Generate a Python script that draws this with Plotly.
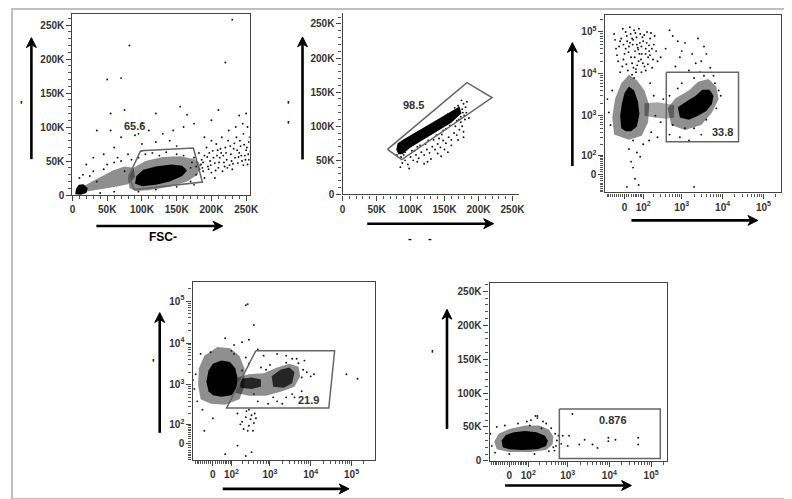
import numpy as np
import plotly.graph_objects as go

W, H = 792, 499
C = 80.0  # biexponential-like (asinh) width parameter

def T(v):
    return np.arcsinh(np.asarray(v, dtype=float) / C)

# ---------------- DATA ----------------
# Panel 1: FSC-A (K) vs SSC-A (K)
p1_origin_core = [(4, 1), (5, 9), (9, 15), (16, 16), (22, 10), (20, 3), (12, 0.5)]
p1_band_mid = [(14, 4), (18, 14), (28, 20), (42, 28), (58, 36), (75, 42), (88, 40), (90, 26),
               (80, 16), (62, 12), (45, 9), (30, 6)]
p1_main_mid = [(82, 10), (80, 25), (88, 40), (105, 50), (130, 56), (155, 57), (175, 53), (185, 44),
               (180, 30), (165, 20), (140, 12), (110, 7), (92, 6)]
p1_main_core = [(90, 17), (92, 28), (102, 37), (120, 42), (142, 45), (158, 43), (165, 36), (158, 28),
                (140, 20), (120, 15), (100, 13)]
p1_dots = [(170, 40), (175, 55), (178, 30), (182, 62), (185, 45), (188, 35), (190, 58), (193, 70), (195, 42),
           (198, 50), (200, 33), (202, 65), (205, 47), (207, 75), (210, 40), (212, 55), (214, 62), (216, 35),
           (218, 48), (220, 70), (222, 52), (224, 80), (226, 44), (228, 60), (230, 38), (232, 68), (234, 55),
           (236, 85), (238, 47), (240, 62), (242, 72), (244, 50), (246, 90), (248, 58), (250, 66), (252, 45),
           (254, 78), (253, 60), (252, 100), (251, 70), (215, 85), (225, 95), (245, 105), (200, 80), (235, 100),
           (205, 25), (190, 25), (180, 48), (50, 170), (70, 172), (82, 220), (230, 258), (220, 195), (160, 100),
           (175, 105), (190, 85), (140, 80), (120, 78), (100, 75), (60, 70), (70, 85), (90, 88), (45, 60),
           (30, 55), (110, 95), (130, 90), (150, 72), (165, 118), (200, 110), (55, 120), (75, 125), (30, 35),
           (15, 30), (20, 45), (35, 95), (95, 90), (145, 95), (210, 125), (250, 120), (55, 95), (80, 60),
           (65, 55), (100, 65), (120, 120), (155, 130), (100, 105), (240, 117), (10, 25), (25, 28), (35, 20),
           (45, 38), (50, 45), (60, 48), (70, 50), (75, 35), (85, 52), (95, 55), (105, 60), (115, 62),
           (125, 58), (135, 63), (150, 60), (160, 58), (170, 20), (175, 15), (150, 12), (120, 8), (95, 5),
           (60, 5), (40, 3), (186, 52), (196, 38), (208, 58), (219, 42), (229, 50), (239, 56), (249, 52),
           (203, 55), (213, 68), (227, 72), (241, 80), (255, 85), (172, 48), (183, 38), (188, 48), (194, 56),
           (199, 44), (206, 36), (211, 48), (217, 58), (223, 40), (231, 46), (237, 66), (243, 58), (247, 74),
           (233, 76), (221, 62), (209, 66), (197, 62), (187, 40), (178, 42), (256, 64), (254, 52), (246, 44)]
p1_gate = [(98, 65), (174, 69), (187, 19), (89, 8), (81, 28)]
p1_label = (90, 102, "65.6")

# Panel 2: FSC-A (K) vs FSC-H (K)
p2_core = [(79, 66), (81, 75), (90, 81), (110, 93), (130, 105), (150, 117), (165, 126), (172, 129),
           (175, 119), (160, 105), (140, 93), (120, 81), (100, 69), (88, 59), (82, 59)]
p2_dots = [(85, 40), (88, 46), (92, 50), (96, 44), (100, 55), (104, 50), (108, 58), (112, 53), (116, 62),
           (120, 58), (124, 66), (128, 61), (132, 70), (136, 66), (140, 74), (144, 69), (148, 79), (152, 75),
           (156, 84), (160, 80), (164, 90), (168, 87), (172, 95), (176, 100), (178, 92), (174, 106), (180, 110),
           (177, 120), (181, 128), (178, 133), (183, 136), (175, 138), (170, 130), (165, 127), (120, 45),
           (130, 52), (110, 48), (98, 38), (140, 60), (150, 66), (160, 72), (170, 80), (178, 84), (90, 58),
           (102, 64), (114, 72), (126, 79), (138, 87), (148, 94), (158, 101), (168, 108), (95, 70), (105, 80),
           (118, 90), (135, 104), (155, 118), (162, 112), (80, 58), (86, 55), (125, 48), (145, 56), (155, 62),
           (174, 114), (182, 120), (186, 112), (176, 125), (172, 120), (168, 118), (179, 116), (106, 64),
           (122, 74), (134, 80), (146, 88), (152, 96), (166, 100), (171, 110), (92, 62), (110, 70), (142, 82)]
p2_gate = [(66, 66), (183, 164), (220, 142), (87, 51)]
p2_label = (105, 131, "98.5")

# Panel 3: biexponential x and y (raw values)
p3_left_mid = [(-50, 350), (-60, 900), (-45, 2500), (-15, 6000), (20, 9500), (60, 7000), (110, 4000),
               (150, 1800), (140, 700), (90, 330), (20, 260)]
p3_left_core = [(-15, 500), (-20, 1000), (-12, 2000), (0, 3500), (20, 5000), (45, 4000), (66, 2200),
                (75, 1100), (60, 550), (30, 420), (5, 420)]
p3_bridge = [(110, 1000), (110, 2000), (250, 2100), (450, 1900), (650, 1800), (650, 900), (400, 850), (200, 900)]
p3_right_mid = [(550, 600), (450, 1500), (700, 2600), (1500, 4000), (2500, 6500), (4500, 7500), (7000, 5000),
                (8000, 2500), (5500, 1200), (3000, 600), (1200, 450)]
p3_right_core = [(900, 900), (800, 1600), (1300, 2200), (2200, 3000), (3200, 4200), (4800, 4200), (6000, 3000),
                 (5500, 1900), (4000, 1300), (2500, 1000), (1500, 800)]
p3_dots = [(-40, 40000), (-20, 60000), (0, 30000), (10, 80000), (20, 45000), (30, 25000), (40, 65000),
           (50, 35000), (60, 50000), (70, 20000), (80, 90000), (90, 30000), (100, 60000), (120, 40000),
           (140, 25000), (160, 70000), (-30, 20000), (-10, 15000), (15, 12000), (35, 18000), (55, 13000),
           (75, 30000), (110, 15000), (5, 100000), (-50, 90000), (45, 110000), (130, 100000), (200, 50000),
           (250, 20000), (180, 14000), (25, 55000), (65, 42000), (85, 22000), (95, 75000), (-5, 50000),
           (35, 70000), (150, 35000), (120, 12000), (400, 40000), (600, 80000), (900, 25000), (1200, 55000),
           (1800, 30000), (2500, 70000), (3000, 20000), (3500, 45000), (700, 15000), (1500, 12000),
           (2200, 18000), (500, 110000), (800, 60000), (4000, 30000), (300, 25000), (1000, 35000),
           (2800, 11000), (5000, 14000), (6000, 9000), (-80, 1200), (-70, 600), (-90, 2500), (-60, 4000),
           (170, 400), (220, 1000), (200, 3000), (160, 6000), (300, 700), (350, 2500), (500, 3000), (600, 600),
           (800, 4500), (1000, 6000), (2000, 8000), (3500, 9000), (7000, 1500), (8000, 4000), (6500, 6000),
           (9000, 3000), (1200, 500), (2000, 500), (4000, 800), (3000, 350), (40, 250), (20, 150), (60, 120),
           (30, 60), (50, -20), (70, -50), (10, -60), (100, 200), (150, 250), (250, 300), (500, 350),
           (900, 300), (1500, 250), (2000, -60), (40, 30), (80, 90),
           (-35, 28000), (-25, 45000), (-15, 70000), (-5, 22000), (5, 40000), (12, 60000), (18, 33000),
           (28, 90000), (38, 50000), (48, 25000), (58, 75000), (68, 38000), (78, 55000), (88, 45000),
           (98, 18000), (108, 85000), (118, 30000), (128, 55000), (138, 17000), (148, 48000), (158, 28000),
           (168, 95000), (178, 40000), (190, 22000), (210, 80000), (230, 35000), (8, 17000), (42, 14000),
           (-20, 11000), (88, 11000), (-45, 65000), (52, 95000), (72, 120000), (-8, 120000), (24, 130000),
           (45, 8000), (55, 11000), (35, 9500), (62, 16000)]
p3_gate = [(416, 11000), (24500, 11000), (24500, 232), (416, 232)]
p3_label = (9700, 395, "33.8")

# Panel 4: biexponential x and y (raw values)
p4_left_mid = [(-60, 450), (-75, 1000), (-70, 2500), (-40, 5000), (20, 8000), (90, 7500), (170, 5000),
               (230, 2500), (230, 900), (170, 450), (60, 330), (-10, 350)]
p4_left_core = [(-20, 700), (-30, 1200), (-20, 2200), (0, 3200), (40, 3800), (90, 3500), (130, 2500),
                (150, 1500), (140, 800), (100, 560), (40, 520), (0, 560)]
p4_right_mid = [(130, 650), (150, 1500), (300, 1800), (700, 1900), (1500, 2600), (3000, 3200), (5000, 2700),
                (5500, 1600), (4000, 900), (2000, 700), (800, 550), (300, 550)]
p4_right_core = [(1200, 900), (1100, 1600), (1800, 2300), (3000, 2600), (4000, 2000), (3500, 1100), (2200, 850)]
p4_mid_core = [(180, 850), (180, 1400), (350, 1500), (600, 1350), (600, 900), (350, 800)]
p4_dots = [(150, 200), (200, 120), (250, 160), (300, 90), (350, 180), (400, 110), (280, 60), (220, 70),
           (330, 140), (450, 150), (180, 100), (260, 230), (380, 60), (300, 250), (420, 200), (250, 80000),
           (280, 85000), (400, 27000), (60, 13000), (120, 9000), (300, 12000), (500, 7000), (-10, 6000),
           (-60, 5500), (700, 5000), (1500, 5500), (2500, 5000), (3500, 4200), (200, 10500), (-100, 800),
           (-90, 1800), (-80, 400), (-50, 250), (0, 150), (-40, 60), (60, -50), (250, -60), (350, -40),
           (150, -10), (500, 400), (900, 350), (1500, 400), (2500, 500), (4000, 500), (6000, 1500),
           (8000, 2000), (10000, 1600), (12000, 1800), (75000, 1800), (140000, 1400), (7000, 3800),
           (4500, 4200), (600, 2600), (300, 3200), (1000, 3000), (6000, 700), (2000, 350), (120, 5500),
           (250, 4500), (800, 2300), (2500, 3400), (5000, 3300), (6500, 2300), (400, 600), (1200, 500),
           (3500, 600), (200, 2200), (-110, 1300), (100, 6500)]
p4_gate = [(446, 6500), (38500, 6500), (27700, 273), (68, 273)]
p4_label = (8700, 426, "21.9")

# Panel 5: biexponential x (raw values) vs linear y (K)
p5_mid = [(-60, 17), (-75, 28), (-50, 40), (0, 47), (80, 52), (200, 52), (350, 46), (450, 36), (430, 24),
          (300, 16), (120, 13), (0, 13)]
p5_core = [(-30, 20), (-35, 30), (-15, 38), (20, 42), (80, 44), (170, 42), (280, 37), (330, 30), (300, 22),
           (180, 17), (60, 16), (0, 17)]
p5_dots = [(-120, 34), (-100, 40), (-90, 22), (-60, 50), (-20, 52), (40, 55), (120, 60), (180, 63), (250, 58),
           (300, 55), (400, 48), (500, 40), (550, 30), (520, 22), (450, 20), (350, 14), (150, 10), (0, 10),
           (-70, 12), (230, 48), (90, 58), (160, 66), (600, 37), (700, 25), (760, 37), (1000, 22), (1080, 37),
           (1300, 69), (1900, 24), (2550, 31), (3950, 24), (5200, 19), (9450, 34), (9450, 29), (14000, 31),
           (49000, 34), (49000, 24), (480, 15), (-140, 28), (110, 52), (180, 66)]
p5_gate = [(630, 76.5), (166000, 76.5), (166000, 3.4), (630, 3.4)]
p5_label = (11900, 60, "0.876")

lin_ticks = [0, 50, 100, 150, 200, 250]
lin_text = ["0", "50K", "100K", "150K", "200K", "250K"]
bx_ticks = [0, 100, 1000, 10000, 100000]
bx_text = ["0", "10<sup>2</sup>", "10<sup>3</sup>", "10<sup>4</sup>", "10<sup>5</sup>"]

# ---------------- FIGURE ----------------
FONT = "Arial, Liberation Sans, sans-serif"
fig = go.Figure()

def xy(pts, tx=None, ty=None):
    xs = [p[0] for p in pts]
    ys = [p[1] for p in pts]
    xs = list(T(xs)) if tx else xs
    ys = list(T(ys)) if ty else ys
    return xs, ys

STYLES = {
    "light": dict(size=2, solidity=0.33),
    "mid": dict(size=2, solidity=0.5),
    "dense": dict(size=2, solidity=0.75),
}

def poly(pts, ax, level, tx=False, ty=False):
    xs, ys = xy(pts + pts[:1], tx, ty)
    kw = dict(x=xs, y=ys, mode="lines", fill="toself", xaxis="x" + ax, yaxis="y" + ax,
              hoverinfo="skip", showlegend=False, line=dict(width=0, color="rgba(0,0,0,0)"))
    if level == "core":
        kw["fillcolor"] = "black"
    else:
        st = STYLES[level]
        kw["fillcolor"] = "rgba(0,0,0,0)"
        kw["fillpattern"] = dict(shape=".", size=st["size"], solidity=st["solidity"], fgcolor="black",
                                 bgcolor="rgba(0,0,0,0)", fillmode="replace")
    fig.add_trace(go.Scatter(**kw))

def dots(pts, ax, tx=False, ty=False):
    xs, ys = xy(pts, tx, ty)
    fig.add_trace(go.Scatter(x=xs, y=ys, mode="markers", marker=dict(size=1.9, color="#111"),
                             xaxis="x" + ax, yaxis="y" + ax, hoverinfo="skip", showlegend=False))

def gate(pts, ax, tx=False, ty=False):
    xs, ys = xy(pts + pts[:1], tx, ty)
    fig.add_trace(go.Scatter(x=xs, y=ys, mode="lines", line=dict(width=1.5, color="#666666"),
                             xaxis="x" + ax, yaxis="y" + ax, hoverinfo="skip", showlegend=False))

# panel 1
poly(p1_band_mid, "", "mid")
poly(p1_main_mid, "", "mid")
poly(p1_origin_core, "", "core")
poly(p1_main_core, "", "core")
dots(p1_dots, "")
gate(p1_gate, "")
# panel 2
poly(p2_core, "2", "core")
dots(p2_dots, "2")
gate(p2_gate, "2")
# panel 3
poly(p3_left_mid, "3", "mid", True, True)
poly(p3_bridge, "3", "light", True, True)
poly(p3_right_mid, "3", "mid", True, True)
poly(p3_left_core, "3", "core", True, True)
poly(p3_right_core, "3", "core", True, True)
dots(p3_dots, "3", True, True)
gate(p3_gate, "3", True, True)
# panel 4
poly(p4_left_mid, "4", "mid", True, True)
poly(p4_right_mid, "4", "mid", True, True)
poly(p4_mid_core, "4", "dense", True, True)
poly(p4_right_core, "4", "dense", True, True)
poly(p4_left_core, "4", "core", True, True)
dots(p4_dots, "4", True, True)
gate(p4_gate, "4", True, True)
# panel 5
poly(p5_mid, "5", "mid", True, False)
poly(p5_core, "5", "core", True, False)
dots(p5_dots, "5", True, False)
gate(p5_gate, "5", True, False)

tickfont = dict(family=FONT, size=10, color="#333333", weight="bold")

def dom_x(l, r):
    return [l / W, r / W]

def dom_y(b, t):
    return [1 - b / H, 1 - t / H]

def lin_axis(rng, dom, mirror=True):
    return dict(range=rng, domain=dom, showgrid=False, zeroline=False, showline=True, linecolor="#444",
                linewidth=1.4, mirror=mirror, ticks="outside", ticklen=5, tickcolor="#444", tickwidth=1,
                tickmode="array", tickvals=lin_ticks, ticktext=lin_text, tickfont=tickfont,
                minor=dict(ticks="outside", ticklen=3, tickcolor="#555", dtick=10, tick0=0, showgrid=False),
                fixedrange=True)

minor_vals = ([-v for v in range(10, 100, 10)] + list(range(10, 100, 10)) +
              [k * 10 ** n for n in (2, 3, 4) for k in range(2, 10)] + [200000])

def bx_axis(rng, dom):
    return dict(range=rng, domain=dom, showgrid=False, zeroline=False, showline=True, linecolor="#444",
                linewidth=1.4, mirror=True, ticks="outside", ticklen=5, tickcolor="#444", tickwidth=1,
                tickmode="array", tickvals=list(T(bx_ticks)), ticktext=bx_text, tickfont=tickfont,
                minor=dict(ticks="outside", ticklen=3, tickcolor="#555", tickmode="array",
                           tickvals=list(T(minor_vals)), showgrid=False),
                fixedrange=True)

layout = dict(width=W, height=H, margin=dict(l=0, r=0, t=0, b=0), paper_bgcolor="white",
              plot_bgcolor="white", showlegend=False)
layout["xaxis"] = lin_axis([0, 255], dom_x(62.4, 242.3))
layout["yaxis"] = lin_axis([0, 266.4], dom_y(189.3, 6))
layout["xaxis"]["anchor"] = "y"
layout["yaxis"]["anchor"] = "x"
layout["xaxis2"] = lin_axis([0, 259.9], dom_x(336.7, 516), mirror=False)
layout["yaxis2"] = lin_axis([0, 266.2], dom_y(188.7, 5), mirror=False)
layout["xaxis2"]["anchor"] = "y2"
layout["yaxis2"]["anchor"] = "x2"
layout["xaxis3"] = bx_axis([-1.126, 8.835], dom_x(602.7, 782.3))
layout["yaxis3"] = bx_axis([-1.0, 8.78], dom_y(186.7, 6.7))
layout["xaxis3"]["anchor"] = "y3"
layout["yaxis3"]["anchor"] = "x3"
layout["xaxis4"] = bx_axis([-1.15, 9.13], dom_x(184.3, 369.3))
layout["yaxis4"] = bx_axis([-0.924, 8.88], dom_y(457.7, 277.3))
layout["xaxis4"]["anchor"] = "y4"
layout["yaxis4"]["anchor"] = "x4"
layout["xaxis5"] = bx_axis([-1.087, 8.68], dom_x(486, 665.7))
layout["yaxis5"] = lin_axis([0, 262.4], dom_y(458.3, 278.3))
layout["xaxis5"]["anchor"] = "y5"
layout["yaxis5"]["anchor"] = "x5"
fig.update_layout(**layout)

ann = []
labfont = dict(family=FONT, size=11, color="#333333", weight="bold")
for (lx, ly, txt), ax, tx, ty in [(p1_label, "", False, False), (p2_label, "2", False, False),
                                  (p3_label, "3", True, True), (p4_label, "4", True, True),
                                  (p5_label, "5", True, False)]:
    ann.append(dict(x=float(T(lx)) if tx else lx, y=float(T(ly)) if ty else ly, xref="x" + ax, yref="y" + ax,
                    text=txt, showarrow=False, font=labfont))

# leftover text marks
marks = [(138, 232, "FSC-", 12), (7, 90, "'", 11), (405, 233, "-", 11), (425, 233, "-", 11),
         (282, 90, "'", 11), (282, 110, "'", 11), (141, 367, "'", 11), (428, 358, "'", 11)]
for mx, my, txt, sz in marks:
    ann.append(dict(x=mx / W, y=1 - my / H, xref="paper", yref="paper", text=txt, showarrow=False,
                    font=dict(family=FONT, size=sz, color="black", weight="bold")))
fig.update_layout(annotations=ann)

# arrows drawn as shapes: (head_x, head_y, tail_x, tail_y) in pixels
arrows = [(20.7, 30, 20.7, 153), (215, 220.7, 86.7, 220.7),
          (296, 29.3, 296, 153.3), (490, 218.3, 361.7, 218.3),
          (570, 35, 570, 160), (758.3, 215, 630, 215),
          (151, 308.3, 151, 430), (343.3, 486.7, 215, 486.7),
          (442.7, 305, 442.7, 426), (630, 483.3, 501.7, 483.3)]

def P(x, y):
    return f"{x / W:.5f},{1 - y / H:.5f}"

for hx, hy, tx_, ty_ in arrows:
    L = np.hypot(hx - tx_, hy - ty_)
    ux, uy = (hx - tx_) / L, (hy - ty_) / L
    nx, ny = -uy, ux
    hl, hw, notch = 10.0, 5.0, 3.0
    bx_, by_ = hx - ux * hl, hy - uy * hl
    fig.add_shape(type="line", xref="paper", yref="paper", x0=tx_ / W, y0=1 - ty_ / H,
                  x1=(hx - ux * 6) / W, y1=1 - (hy - uy * 6) / H, line=dict(color="black", width=2.6))
    path = ("M " + P(hx, hy) + " L " + P(bx_ + nx * hw, by_ + ny * hw) + " L " +
            P(bx_ + ux * notch, by_ + uy * notch) + " L " + P(bx_ - nx * hw, by_ - ny * hw) + " Z")
    fig.add_shape(type="path", xref="paper", yref="paper", path=path, fillcolor="black",
                  line=dict(color="black", width=1))

fig.add_shape(type="rect", xref="paper", yref="paper", x0=1 / W, x1=790 / W, y0=1 - 497 / H, y1=1 - 1 / H,
              line=dict(color="#aaaaaa", width=1.5))

fig.write_html("out.html")
